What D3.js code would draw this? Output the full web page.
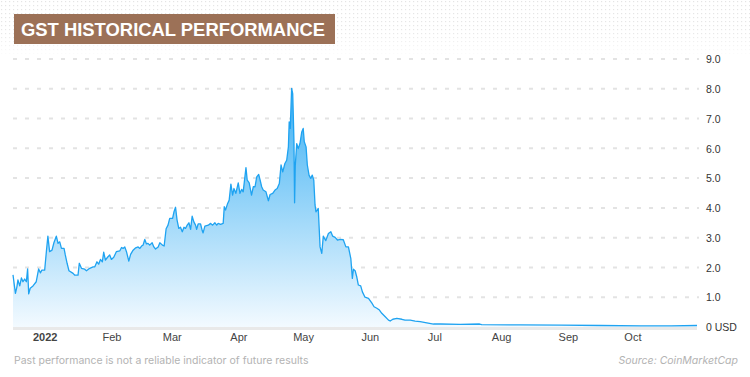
<!DOCTYPE html>
<html>
<head>
<meta charset="utf-8">
<script src="https://d3js.org/d3.v7.min.js"></script>
<style>
  body { margin: 0; background: #fff; }
  svg { display: block; font-family: Inter, "Noto Sans", sans-serif; }
</style>
</head>
<body>
<div id="chart"></div>
<script>
// GST price history
// day offsets are counted from 2022-01-01 (fractions = part of a day)
var startDate = "2022-01-01";

var dayOffsets = [
  -14.7, -13.6, -12.9, -12.4, -11.6, -10.8, -10.1, -9.3, -8.5, -7.9, -7.4, -6.7, -5.4, -3.9, -2.8, -2.0, -1.3,
  0, 0.8, 1.5, 2.3, 3.4, 4.3, 5.4, 6.2, 7.0, 7.8, 9.0, 9.6, 10.4, 11.3, 13.2, 14.0, 15.5, 16.1, 17.1, 18.6,
  19.4, 20.9, 22.5, 23.3, 24.3, 25.1, 25.9, 26.8, 27.4, 28.2, 29.4, 30.2, 31.0, 32.1, 33.3, 34.9, 35.7, 36.4,
  37.2, 38.0, 39.1, 39.9, 41.1, 42.3, 43.4, 44.2, 45.0, 45.7, 46.5, 47.3, 48.0, 48.8, 49.9, 50.7, 51.5, 52.7,
  53.5, 54.7, 55.5, 56.4, 57.3, 58.1, 59.4, 60.1, 60.8, 61.5, 62.3, 63.1, 63.9, 64.7, 65.4, 66.2, 67.0, 67.8,
  68.5, 69.3, 70.1, 70.6, 71.3, 72.4, 73.2, 73.6, 74.4, 76.0, 77.1, 78.0, 79.1, 79.9, 80.6, 81.7, 82.9, 83.4,
  84.0, 85.0, 85.7, 86.5, 87.3, 87.9, 88.8, 89.9, 90.7, 91.5, 92.2, 93.5, 94.1, 95.0, 96.1, 96.9, 97.7, 98.5,
  99.4, 100.0, 100.8, 101.5, 102.8, 103.9, 104.7, 105.9, 107.0, 108.0, 109.0, 109.8, 110.6, 111.6, 112.4,
  113.2, 113.6, 114.1, 114.7, 115.2, 115.5, 115.8, 116.1, 116.4, 117.1, 117.8, 118.6, 119.4, 120.1, 120.6,
  121.4, 122.0, 122.8, 123.6, 124.3, 125.0, 125.6, 126.0, 127.1, 127.9, 128.7, 129.4, 130.6, 131.8, 132.9,
  133.8, 134.9, 136.0, 137.2, 138.7, 139.9, 141.1, 142.2, 142.9, 143.4, 144.2, 145.0, 145.7, 146.8, 147.6,
  148.8, 150.4, 152.0, 153.0, 154.3, 155.5, 156.6, 158.1, 159.7, 160.5, 161.7, 163.6, 165.9, 167.4, 169.8,
  172.1, 174.4, 177.5, 180.6, 183.7, 193, 202, 203, 221, 240, 258, 277, 291, 303
];

var prices = [
  1.75, 1.13, 1.34, 1.58, 1.38, 1.65, 1.52, 1.61, 1.52, 1.95, 1.11, 1.30, 1.38, 1.52, 1.95, 1.82, 1.91,
  1.91, 2.53, 3.05, 2.53, 2.58, 2.83, 3.05, 2.81, 2.86, 2.64, 2.64, 2.42, 2.14, 1.89, 1.80, 1.74, 1.74, 2.14, 1.97, 1.94,
  1.89, 1.97, 2.02, 2.02, 2.19, 2.11, 2.27, 2.19, 2.51, 2.25, 2.36, 2.42, 2.27, 2.34, 2.53, 2.56, 2.67, 2.64,
  2.69, 2.53, 2.21, 2.44, 2.58, 2.66, 2.69, 2.64, 2.72, 2.75, 2.94, 2.79, 2.81, 2.75, 2.83, 2.69, 2.62, 2.69,
  2.83, 2.75, 2.72, 3.30, 3.42, 3.65, 3.65, 3.87, 4.02, 3.59, 3.31, 3.35, 3.20, 3.35, 3.31, 3.42, 3.50, 3.28,
  3.72, 3.53, 3.42, 3.28, 3.46, 3.46, 3.23, 3.16, 3.39, 3.42, 3.48, 3.42, 3.50, 3.42, 3.48, 3.45, 3.48, 4.04,
  3.93, 4.15, 4.26, 4.80, 4.43, 4.65, 4.49, 4.84, 4.49, 4.62, 4.54, 5.35, 4.93, 4.84, 4.43, 4.71, 4.71, 5.04,
  5.12, 4.96, 4.71, 4.60, 4.54, 4.24, 4.45, 4.49, 4.60, 4.65, 4.82, 5.44, 5.21, 5.49, 5.60,
  6.05, 6.89, 6.67, 8.01, 7.84, 7.06, 6.22, 4.17, 5.44, 6.16, 5.99, 6.16, 6.55, 6.67, 6.22,
  6.05, 5.44, 5.10, 4.99, 5.10, 4.93, 4.10, 3.87, 3.98, 2.69, 2.47, 3.05, 2.90, 3.14, 3.20,
  3.05, 3.01, 2.92, 2.94, 2.93, 2.69, 2.69, 2.30, 1.63, 1.94, 1.89, 1.67, 1.41, 1.38, 1.18,
  1.00, 0.96, 0.80, 0.68, 0.63, 0.57, 0.46, 0.35, 0.23, 0.20, 0.26, 0.29, 0.26, 0.23, 0.23,
  0.20, 0.18, 0.14, 0.10, 0.10, 0.09, 0.10, 0.08, 0.07, 0.06, 0.05, 0.04, 0.04, 0.05
];

var yTicks = [0, 1, 2, 3, 4, 5, 6, 7, 8, 9];
var xTickDates = ["2022-01-01", "2022-02-01", "2022-03-01", "2022-04-01", "2022-05-01",
                  "2022-06-01", "2022-07-01", "2022-08-01", "2022-09-01", "2022-10-01"];
var xTickLabels = ["2022", "Feb", "Mar", "Apr", "May", "Jun", "Jul", "Aug", "Sep", "Oct"];

var titleText = "GST HISTORICAL PERFORMANCE";
var noteText = "Past performance is not a reliable indicator of future results";
var sourceText = "Source: CoinMarketCap";

// build the rows
var parseDay = d3.timeParse("%Y-%m-%d");
var base = parseDay(startDate);
var data = dayOffsets.map(function(d, i) {
    return { date: d3.timeHour.offset(base, Math.round(d * 24)), value: prices[i] };
});

var width = 750, height = 377;
// plot box (note: "top" is taken by window.top, so use other names)
var plotLeft = 13, plotRight = 697, plotTop = 59, plotBottom = 327;

var svg = d3.select("#chart").append("svg")
    .attr("width", width)
    .attr("height", height);

var defs = svg.append("defs");

// dotted header background
var pat = defs.append("pattern")
    .attr("id", "dots")
    .attr("width", 4).attr("height", 4)
    .attr("patternUnits", "userSpaceOnUse");
pat.append("rect").attr("x", 1).attr("y", 1).attr("width", 1.2).attr("height", 1.2).attr("fill", "#e4e4e4");

var fade = defs.append("linearGradient")
    .attr("id", "fade").attr("x1", 0).attr("y1", 0).attr("x2", 0).attr("y2", 1);
fade.append("stop").attr("offset", "0%").attr("stop-color", "#fff").attr("stop-opacity", 1);
fade.append("stop").attr("offset", "55%").attr("stop-color", "#fff").attr("stop-opacity", 0.9);
fade.append("stop").attr("offset", "100%").attr("stop-color", "#fff").attr("stop-opacity", 0);
defs.append("mask").attr("id", "fadeMask")
    .append("rect").attr("width", width).attr("height", 58).attr("fill", "url(#fade)");

svg.append("rect")
    .attr("width", width).attr("height", 58)
    .attr("fill", "url(#dots)")
    .attr("mask", "url(#fadeMask)");

// area gradient
var grad = defs.append("linearGradient")
    .attr("id", "areaFill")
    .attr("gradientUnits", "userSpaceOnUse")
    .attr("x1", 0).attr("y1", 88).attr("x2", 0).attr("y2", plotBottom);
grad.append("stop").attr("offset", "0%").attr("stop-color", "#3cb0f3");
grad.append("stop").attr("offset", "100%").attr("stop-color", "#f3faff");

// scales
var x = d3.scaleTime()
    .domain(d3.extent(data, function(d) { return d.date; }))
    .range([plotLeft, plotRight]);

var y = d3.scaleLinear()
    .domain([0, 9])
    .range([plotBottom, plotTop]);

// grid lines
svg.append("g")
    .selectAll("line")
    .data(yTicks.filter(function(t) { return t > 0; }))
    .enter().append("line")
    .attr("x1", plotLeft).attr("x2", plotRight + 2)
    .attr("y1", function(d) { return y(d); })
    .attr("y2", function(d) { return y(d); })
    .attr("stroke", "#e3e3e3")
    .attr("stroke-width", 2)
    .attr("stroke-dasharray", "4,8");

// baseline bar
svg.append("rect")
    .attr("x", plotLeft).attr("y", y(0))
    .attr("width", plotRight - plotLeft).attr("height", 3)
    .attr("fill", "#e9e9e9");

// area + line
var area = d3.area()
    .x(function(d) { return x(d.date); })
    .y0(y(0))
    .y1(function(d) { return y(d.value); });

var line = d3.line()
    .x(function(d) { return x(d.date); })
    .y(function(d) { return y(d.value); });

svg.append("path")
    .attr("d", area(data))
    .attr("fill", "url(#areaFill)");

svg.append("path")
    .attr("d", line(data))
    .attr("fill", "none")
    .attr("stroke", "#1fa3f1")
    .attr("stroke-width", 1.3)
    .attr("stroke-linejoin", "round");

// y axis on the right
var yAxis = d3.axisRight(y)
    .tickValues(yTicks)
    .tickSize(0)
    .tickPadding(0)
    .tickFormat(function(d) { return d === 0 ? "0 USD" : d.toFixed(1); });

var yg = svg.append("g")
    .attr("transform", "translate(706,0)")
    .call(yAxis);
yg.select(".domain").remove();
yg.selectAll("text")
    .attr("fill", "#333")
    .style("font-size", "10.5px")
    .attr("dy", "0.35em");

// x axis
var xAxis = d3.axisBottom(x)
    .tickValues(xTickDates.map(parseDay))
    .tickSize(0)
    .tickPadding(0)
    .tickFormat(function(d, i) { return xTickLabels[i]; });

var xg = svg.append("g")
    .attr("transform", "translate(0,333)")
    .call(xAxis);
xg.select(".domain").remove();
xg.selectAll("text")
    .attr("fill", "#444")
    .style("font-size", "11px")
    .style("font-weight", function(d, i) { return i === 0 ? "700" : "400"; })
    .attr("dy", "0.71em");

// title box
svg.append("rect")
    .attr("x", 14).attr("y", 14)
    .attr("width", 321).attr("height", 30)
    .attr("fill", "#9c7157");

svg.append("text")
    .attr("x", 21).attr("y", 36)
    .attr("textLength", 304)
    .attr("lengthAdjust", "spacingAndGlyphs")
    .attr("fill", "#fff")
    .style("font-family", "'Liberation Sans', Arial, sans-serif")
    .style("font-weight", "700")
    .style("font-size", "19px")
    .text(titleText);

// footer
svg.append("text")
    .attr("x", 14).attr("y", 364)
    .attr("fill", "#b3b3b3")
    .style("font-size", "10.5px")
    .text(noteText);

svg.append("text")
    .attr("x", 738).attr("y", 364)
    .attr("text-anchor", "end")
    .attr("fill", "#b3b3b3")
    .style("font-size", "10.5px")
    .style("font-style", "italic")
    .text(sourceText);
</script>
</body>
</html>
